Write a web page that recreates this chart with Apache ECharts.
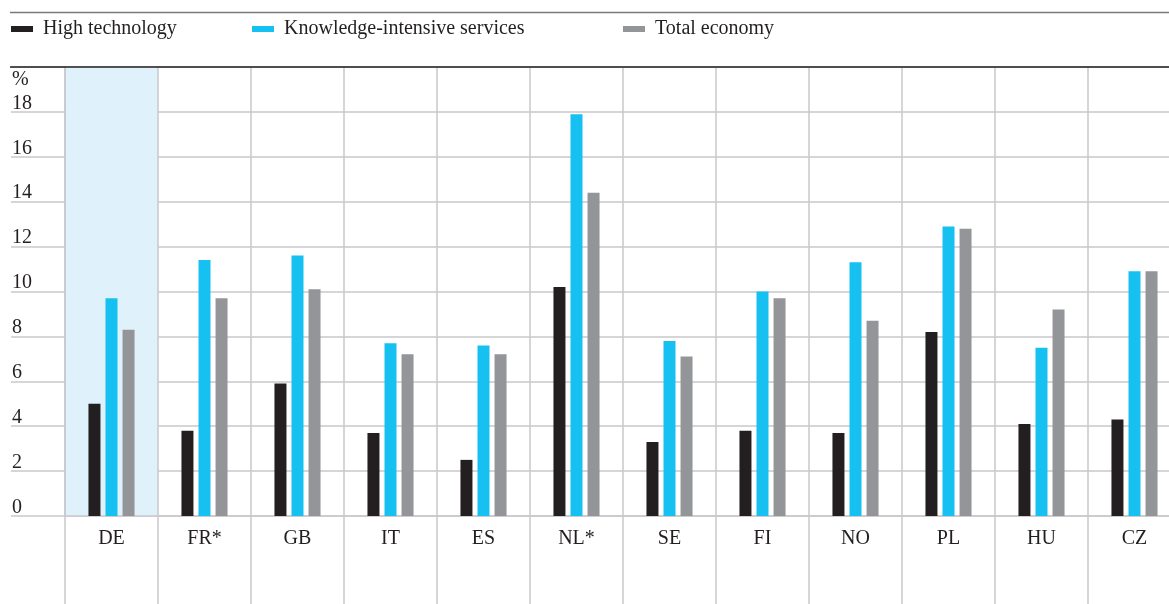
<!DOCTYPE html>
<html>
<head>
<meta charset="utf-8">
<script src="https://cdn.jsdelivr.net/npm/echarts@6/dist/echarts.min.js"></script>
<style>
html,body{margin:0;padding:0;background:#fff;}
#chart{width:1169px;height:604px;}
</style>
</head>
<body>
<div id="chart"></div>
<script>
const categories = ['DE', 'FR*', 'GB', 'IT', 'ES', 'NL*', 'SE', 'FI', 'NO', 'PL', 'HU', 'CZ'];
const highTech = [5.0, 3.8, 5.9, 3.7, 2.5, 10.2, 3.3, 3.8, 3.7, 8.2, 4.1, 4.3];
const knowledge = [9.7, 11.4, 11.6, 7.7, 7.6, 17.9, 7.8, 10.0, 11.3, 12.9, 7.5, 10.9];
const totalEcon = [8.3, 9.7, 10.1, 7.2, 7.2, 14.4, 7.1, 9.7, 8.7, 12.8, 9.2, 10.9];
const seriesNames = ['High technology', 'Knowledge-intensive services', 'Total economy'];
const yTicks = [0, 2, 4, 6, 8, 10, 12, 14, 16, 18];
const unitLabel = '%';

const FONT = '"Liberation Serif", "Times New Roman", serif';
const TXT = '#231f20';
const GRIDC = '#c9c9cc';
const colors = ['#231f20', '#16c1f2', '#939598'];

const chart = echarts.init(document.getElementById('chart'), null, {renderer: 'canvas'});

const areaColors = categories.map((c, i) => i === 0 ? '#dff1fa' : 'rgba(255,255,255,0)');

function legendFor(i, left) {
  return {
    data: [seriesNames[i]],
    left: left,
    top: 19,
    icon: 'rect',
    itemWidth: 22,
    itemHeight: 6,
    selectedMode: false,
    padding: 0,
    textStyle: {fontFamily: FONT, fontSize: 20, color: TXT, padding: [0, 0, 0, 5]}
  };
}

const data = [highTech, knowledge, totalEcon];

chart.setOption({
  animation: false,
  backgroundColor: '#fff',
  textStyle: {fontFamily: FONT},
  legend: [legendFor(0, 11), legendFor(1, 252), legendFor(2, 623)],
  grid: {left: 65, right: -12, top: 67, bottom: 88, containLabel: false, outerBoundsMode: 'none'},
  xAxis: {
    type: 'category',
    data: categories,
    boundaryGap: true,
    axisLine: {show: true, lineStyle: {color: GRIDC, width: 1.5}},
    axisTick: {show: true, length: 88, interval: 0, lineStyle: {color: GRIDC, width: 1.5}},
    axisLabel: {fontFamily: FONT, fontSize: 20, color: TXT, margin: 13, interval: 0},
    splitLine: {show: true, interval: 0, lineStyle: {color: GRIDC, width: 1.5}},
    splitArea: {show: true, interval: 0, areaStyle: {color: areaColors}}
  },
  yAxis: {
    type: 'value',
    min: 0,
    max: 20,
    interval: 2,
    axisLine: {show: true, lineStyle: {color: GRIDC, width: 1.5}},
    axisTick: {show: true, length: 54, lineStyle: {color: GRIDC, width: 1.5}},
    splitLine: {show: true, lineStyle: {color: GRIDC, width: 1.5}},
    axisLabel: {
      fontFamily: FONT, fontSize: 20, color: TXT,
      align: 'left', verticalAlign: 'bottom', lineHeight: 17, margin: 53,
      formatter: v => yTicks.indexOf(v) >= 0 ? String(v) : ''
    }
  },
  graphic: [
    {type: 'line', shape: {x1: 10, y1: 12.5, x2: 1169, y2: 12.5}, style: {stroke: '#7a7a7c', lineWidth: 1.5}, z: 100},
    {type: 'line', shape: {x1: 10, y1: 67, x2: 1169, y2: 67}, style: {stroke: '#231f20', lineWidth: 1.5}, z: 100},
    {type: 'text', left: 12, top: 70, style: {text: unitLabel, font: '20px ' + FONT, fill: TXT}, z: 100}
  ],
  series: data.map((d, i) => ({
    name: seriesNames[i],
    type: 'bar',
    data: d,
    barWidth: 12,
    barGap: '42%',
    itemStyle: {color: colors[i]},
    silent: true
  }))
});
</script>
</body>
</html>
